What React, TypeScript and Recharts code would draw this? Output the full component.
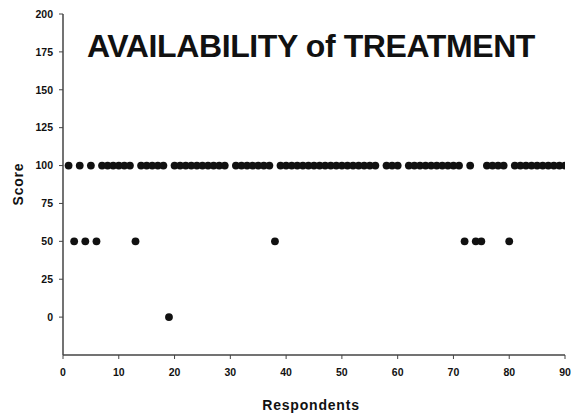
import React from 'react';
import { ScatterChart, Scatter, XAxis, YAxis } from 'recharts';

const FONT = '"Liberation Sans", Arial, Helvetica, sans-serif';

// respondent numbers, grouped by the score they gave
const scored100 = [
  1, 3, 5, 7, 8, 9, 10, 11, 12, 14, 15, 16, 17, 18,
  20, 21, 22, 23, 24, 25, 26, 27, 28, 29, 31, 32, 33, 34, 35, 36, 37,
  39, 40, 41, 42, 43, 44, 45, 46, 47, 48, 49, 50, 51, 52, 53, 54, 55, 56,
  58, 59, 60, 62, 63, 64, 65, 66, 67, 68, 69, 70, 71, 73,
  76, 77, 78, 79, 81, 82, 83, 84, 85, 86, 87, 88, 89, 90,
];
const scored50 = [2, 4, 6, 13, 38, 72, 74, 75, 80];
const scored0 = [19];

const xTicks = [0, 10, 20, 30, 40, 50, 60, 70, 80, 90];
const yTicks = [0, 25, 50, 75, 100, 125, 150, 175, 200];

const points = [
  ...scored100.map((r) => ({ respondent: r, score: 100 })),
  ...scored50.map((r) => ({ respondent: r, score: 50 })),
  ...scored0.map((r) => ({ respondent: r, score: 0 })),
];

const Dot = (props: any) => <circle cx={props.cx} cy={props.cy} r={3.9} fill="#111" />;

const tickStyle = { fill: '#111', fontSize: 10.5, fontWeight: 700, fontFamily: FONT };

export default function App() {
  return (
    <div style={{ position: 'absolute', left: 0, top: 0, width: 572, height: 416, background: '#fff', fontFamily: FONT }}>
      <ScatterChart width={572} height={416} margin={{ top: 14, right: 7, bottom: 31, left: 0 }}>
        <XAxis
          type="number"
          dataKey="respondent"
          domain={[0, 90]}
          ticks={xTicks}
          height={30}
          tickSize={4}
          tickMargin={10}
          tick={tickStyle}
          axisLine={{ stroke: '#444', strokeWidth: 1.5 }}
          tickLine={{ stroke: '#444' }}
          allowDataOverflow
        />
        <YAxis
          type="number"
          dataKey="score"
          domain={[-25, 200]}
          ticks={yTicks}
          width={63}
          tickSize={4}
          tickMargin={6}
          tick={tickStyle}
          axisLine={{ stroke: '#444', strokeWidth: 1.5 }}
          tickLine={{ stroke: '#444' }}
          allowDataOverflow
        />
        <Scatter data={points} shape={<Dot />} isAnimationActive={false} />
      </ScatterChart>

      <div style={{
        position: 'absolute', left: 0, width: 622, top: 30, textAlign: 'center',
        fontSize: 32, lineHeight: '32px', fontWeight: 700, letterSpacing: -0.4, color: '#111', whiteSpace: 'nowrap'
      }}>
        AVAILABILITY of TREATMENT
      </div>

      <div style={{
        position: 'absolute', left: 0, width: 622, top: 398, textAlign: 'center',
        fontSize: 14, lineHeight: '14px', fontWeight: 700, letterSpacing: 0.8, color: '#111'
      }}>
        Respondents
      </div>

      <div style={{
        position: 'absolute', left: 18, top: 184, width: 0, height: 0
      }}>
        <div style={{
          position: 'absolute', left: -40, top: -7, width: 80, textAlign: 'center',
          transform: 'rotate(-90deg)', fontSize: 14, lineHeight: '14px', fontWeight: 700,
          letterSpacing: 0.8, color: '#111'
        }}>
          Score
        </div>
      </div>
    </div>
  );
}
